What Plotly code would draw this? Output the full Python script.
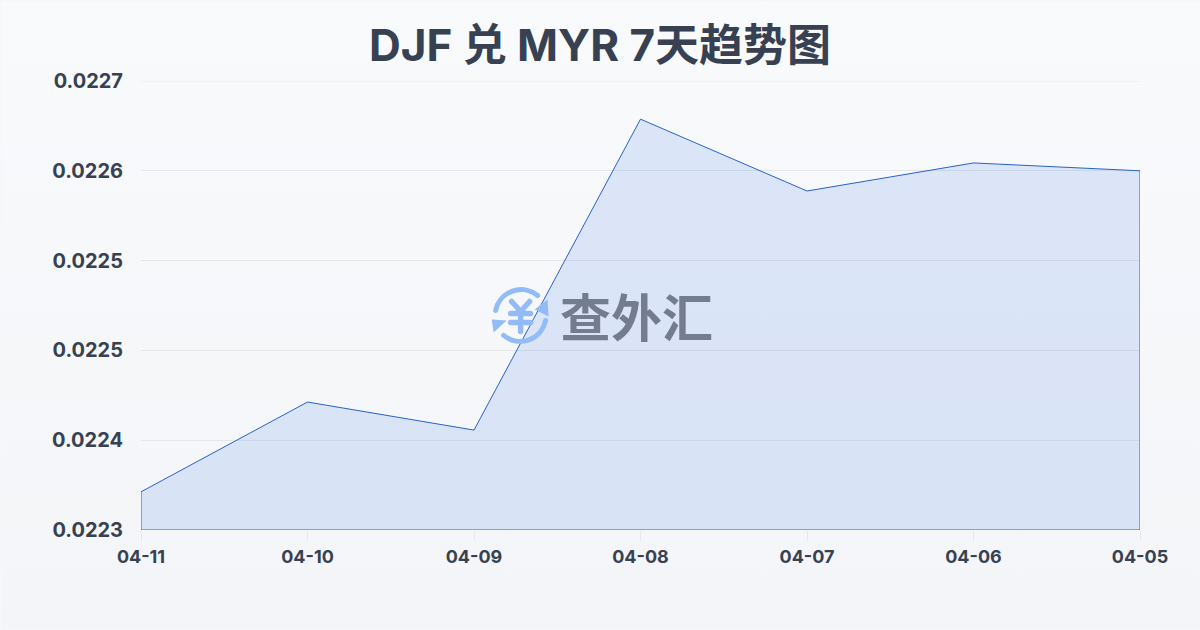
import base64
import plotly.graph_objects as go

title_text = "DJF 兑 MYR 7天趋势图"
logo_text = "查外汇"
dates = ["04-11", "04-10", "04-09", "04-08", "04-07", "04-06", "04-05"]
rates = [0.022334, 0.022414, 0.022389, 0.022666, 0.022602, 0.022627, 0.022620]
y_ticks = [0.0223, 0.02238, 0.02246, 0.02254, 0.02262, 0.0227]
y_labels = ["0.0223", "0.0224", "0.0225", "0.0225", "0.0226", "0.0227"]
y_min, y_max = 0.0223, 0.0227

FONT = "Inter, 'Noto Sans CJK SC', sans-serif"
INK = "#374151"


def uri(svg):
    return "data:image/svg+xml;base64," + base64.b64encode(svg.encode()).decode()


bg_svg = ('<svg xmlns="http://www.w3.org/2000/svg" width="1200" height="630">'
          '<defs><linearGradient id="g" x1="0" y1="0" x2="0" y2="1">'
          '<stop offset="0" stop-color="#f8fafc"/><stop offset="1" stop-color="#f3f5f8"/>'
          '</linearGradient></defs><rect width="1200" height="630" fill="url(#g)"/></svg>')

icon_svg = ('<svg xmlns="http://www.w3.org/2000/svg" width="62" height="62" viewBox="0 0 62 62">'
            '<g fill="none" stroke="#93bbf8" stroke-width="5" stroke-linecap="round">'
            '<path d="M6 26 A26 26 0 0 1 48 11"/>'
            '<path d="M56 36 A26 26 0 0 1 14 51"/></g>'
            '<g fill="none" stroke="#93bbf8" stroke-width="5.5" stroke-linecap="round">'
            '<path d="M22 17 L31 27 L40 17 M21 29 H41 M21 38 H41 M31 27 V47"/></g>'
            '<path d="M45 25 L58 15 L59 32 Z M2 35 L17 36 L4 48 Z" fill="#93bbf8"/></svg>')

# Closed outline: along the series, then down to the axis and back to the start.
x_outline = dates + [dates[-1], dates[0], dates[0]]
y_outline = rates + [y_min, y_min, rates[0]]

fig = go.Figure()
fig.add_trace(go.Scatter(
    x=x_outline, y=y_outline, mode="lines", fill="toself", cliponaxis=False,
    fillcolor="rgba(37,99,235,0.13)",
    line=dict(color="#2563c9", width=1), hoverinfo="skip", showlegend=False,
))

fig.update_layout(
    width=1200, height=630,
    margin=dict(l=140.5, r=59.5, t=80.5, b=99.5),
    paper_bgcolor="#f5f7fa", plot_bgcolor="rgba(0,0,0,0)",
    font=dict(family=FONT, color=INK),
    title=dict(text=title_text, x=0.5, xanchor="center", y=0.928, yanchor="middle",
               font=dict(size=44, family=FONT, color=INK, weight=700)),
    xaxis=dict(type="category", categoryorder="array", categoryarray=dates,
               range=[0, len(dates) - 1], showgrid=False, zeroline=False,
               ticks="outside", ticklen=10, tickwidth=1, tickcolor="#e5e7eb",
               showline=False,
               tickfont=dict(size=18, family=FONT, color=INK, weight=700)),
    yaxis=dict(range=[y_min, y_max], tickmode="array", tickvals=y_ticks, ticktext=y_labels,
               showgrid=True, gridcolor="#e5e7eb", gridwidth=1, zeroline=False,
               ticks="", showline=False, ticklabelstandoff=17,
               tickfont=dict(size=20, family=FONT, color=INK, weight=700)),
    shapes=[dict(type="line", xref="paper", x0=0, x1=1, yref="y", y0=y_ticks[-1], y1=y_ticks[-1],
                 line=dict(color="#e5e7eb", width=1), layer="below")],
    images=[
        dict(source=uri(bg_svg), xref="paper", yref="paper", x=-140 / 1000, y=1 + 80 / 450,
             sizex=1.2, sizey=1.4, sizing="stretch", xanchor="left", yanchor="top", layer="below"),
        dict(source=uri(icon_svg), xref="paper", yref="paper", x=(489 - 140) / 1000, y=(530 - 284) / 450,
             sizex=0.062, sizey=62 / 450, sizing="stretch", xanchor="left", yanchor="top", layer="above"),
    ],
    annotations=[dict(
        text=logo_text, xref="paper", yref="paper", x=(636 - 140) / 1000, y=(530 - 315) / 450,
        xanchor="center", yanchor="middle", showarrow=False,
        font=dict(size=51, family="'Noto Sans CJK SC', sans-serif", color="#747d8f", weight=700),
    )],
)

fig.write_html("out.html", config={"displayModeBar": False},
               post_script="document.body.style.margin='0';document.body.style.overflow='hidden';")
